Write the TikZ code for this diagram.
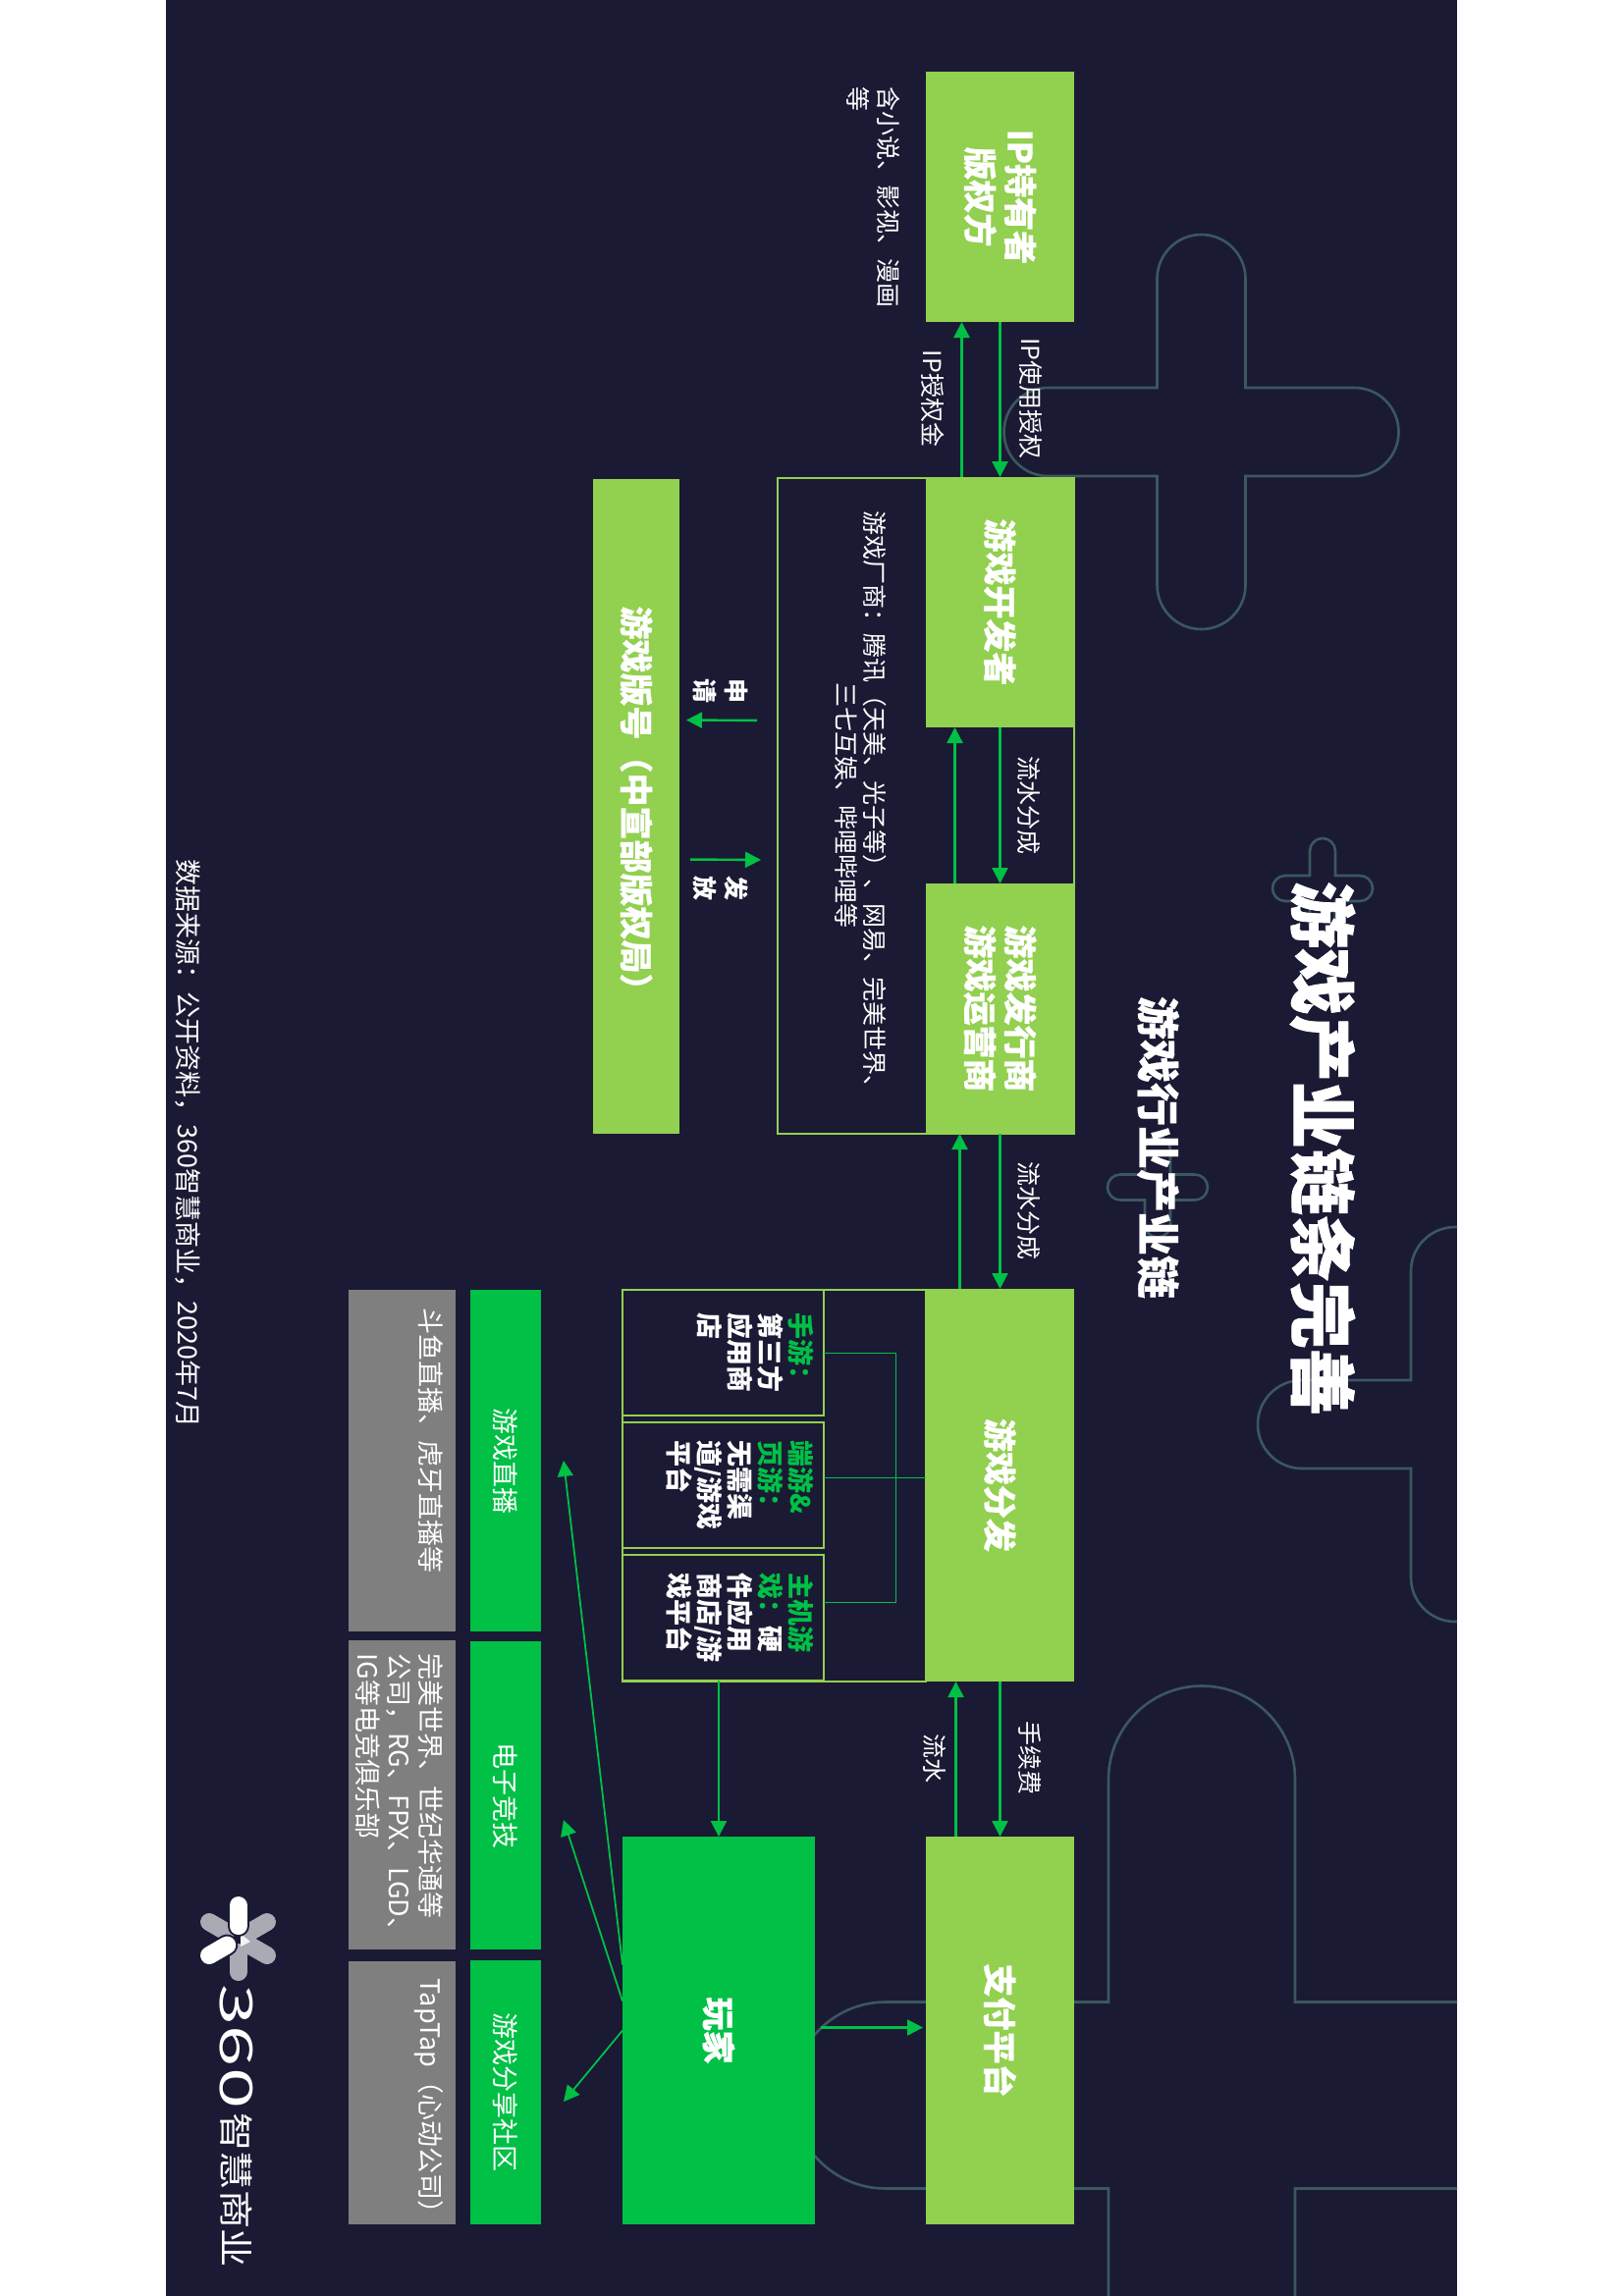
\documentclass[tikz,border=0pt]{standalone}
\usepackage{fontspec}
\setmainfont{Noto Sans CJK SC}
\newfontfamily\heavyfont[BoldFeatures={FakeBold=1.2}]{Noto Sans CJK SC}
\newfontfamily\boxfont[BoldFeatures={FakeBold=0.5}]{Noto Sans CJK SC}
\usetikzlibrary{arrows.meta,positioning}
\definecolor{panelbg}{RGB}{27,26,52}
\definecolor{leafgreen}{RGB}{146,208,80}
\definecolor{flowgreen}{RGB}{0,192,70}
\definecolor{notegray}{RGB}{127,127,127}
\definecolor{plusteal}{RGB}{58,88,96}
\definecolor{petalgray}{RGB}{170,170,180}
\tikzstyle{arrow} = [line width=1.2pt,->,>={Triangle[length=8pt,width=8pt]},color=flowgreen]
\tikzstyle{thinline} = [line width=0.5pt,color=flowgreen]
\tikzstyle{plusline} = [line width=1.3pt,color=plusteal]
\tikzstyle{leafbox} = [fill=leafgreen,text=white,inner sep=0pt,outer sep=0pt,align=center,font=\fontsize{17}{20.5}\selectfont\boxfont\bfseries]
\tikzstyle{greenbox} = [fill=flowgreen,text=white,inner sep=0pt,outer sep=0pt,align=center,font=\fontsize{13.5}{16}\selectfont]
\tikzstyle{graybox} = [fill=notegray,inner sep=0pt,outer sep=0pt]
\tikzstyle{framebox} = [draw=leafgreen,line width=1pt,inner sep=0pt,outer sep=0pt]
\tikzstyle{flowlabel} = [text=white,inner sep=0pt,align=center,font=\fontsize{12.5}{15}\selectfont]
\tikzstyle{subtext} = [text=white,inner sep=0pt,align=left,font=\fontsize{13.5}{15.5}\selectfont\bfseries]
\tikzstyle{graytext} = [text=white,inner sep=0pt,align=left,font=\fontsize{13.5}{16}\selectfont]
% one rounded plus: centre x, centre y, half width, half length
\newcommand{\plusshape}[4]{%
\draw[plusline] ({#1-#3},{#2-#4+#3}) arc (180:360:#3) -- ({#1+#3},{#2-#3}) -- ({#1+#4-#3},{#2-#3})
  arc (270:450:#3) -- ({#1+#3},{#2+#3}) -- ({#1+#3},{#2+#4-#3})
  arc (0:180:#3) -- ({#1-#3},{#2+#3}) -- ({#1-#4+#3},{#2+#3})
  arc (90:270:#3) -- ({#1-#3},{#2-#3}) -- cycle;}
\begin{document}
\begin{tikzpicture}[x=0.5pt,y=0.5pt,rotate=-90,transform shape]
\useasboundingbox (0,0) rectangle (2339,1653);
\fill[white] (0,0) rectangle (2339,1653);
\fill[panelbg] (0,169) rectangle (2339,1484);

% Background pluses
\begin{scope}
\clip (0,169) rectangle (2339,1484);
\plusshape{440}{1223.5}{45}{201}
\plusshape{905}{1347}{13}{51}
\plusshape{1209.5}{1179}{13}{51}
\plusshape{1451}{1482}{45}{201}
\plusshape{2134.5}{1224}{95}{417}
\end{scope}

% Titles
\node[text=white,inner sep=0pt,font=\fontsize{34}{40}\selectfont\heavyfont\bfseries] (maintitle) at (1170,1347) {游戏产业链条完善};
\node[text=white,inner sep=0pt,font=\fontsize{22}{26}\selectfont\boxfont\bfseries] (subtitle) at (1169,1179.5) {游戏行业产业链};

% Frames
\node[framebox,minimum width=334pt,minimum height=151pt] (devframe) at (821,943) {};
\node[framebox,minimum width=199.5pt,minimum height=154.5pt] (distframe) at (1513.5,788.5) {};

% Chain boxes
\node[leafbox,minimum width=127.5pt,minimum height=75.5pt] (ipowner) at (200.5,1018.5) {IP持有者\\版权方};
\node[leafbox,minimum width=127.5pt,minimum height=75.5pt] (gamedev) at (613.5,1018.5) {游戏开发者};
\node[leafbox,minimum width=127.5pt,minimum height=75.5pt] (publisher) at (1027.5,1018.5) {游戏发行商\\游戏运营商};
\node[leafbox,minimum width=200pt,minimum height=75.5pt] (distrib) at (1513,1018.5) {游戏分发};
\node[leafbox,minimum width=197.5pt,minimum height=75.5pt] (payment) at (2068.5,1018.5) {支付平台};
\node[leafbox,minimum width=333.5pt,minimum height=44pt] (license) at (821.5,648) {游戏版号（中宣部版权局）};
\node[greenbox,minimum width=197.5pt,minimum height=98pt,font=\fontsize{17}{20.5}\selectfont\boxfont\bfseries] (player) at (2068.5,732) {玩家};

% Distribution channels
\node[framebox,minimum width=64pt,minimum height=102.5pt] (mobilebox) at (1378,736.5) {};
\node[framebox,minimum width=64pt,minimum height=102.5pt] (pcbox) at (1513,736.5) {};
\node[framebox,minimum width=64pt,minimum height=102.5pt] (consolebox) at (1648,736.5) {};
\node[subtext,below=5pt of mobilebox.north] (mobiletext) {\textcolor{flowgreen}{手游：}\\第三方\\应用商\\店};
\node[subtext,below=5pt of pcbox.north] (pctext) {\textcolor{flowgreen}{端游\&}\\\textcolor{flowgreen}{页游：}\\无需渠\\道/游戏\\平台};
\node[subtext,below=5pt of consolebox.north] (consoletext) {\textcolor{flowgreen}{主机游}\\\textcolor{flowgreen}{戏：}硬\\件应用\\商店/游\\戏平台};

% Downstream columns
\node[greenbox,minimum width=174pt,minimum height=36pt] (livebox) at (1488,515) {游戏直播};
\node[greenbox,minimum width=157pt,minimum height=36pt] (esportsbox) at (1829,515) {电子竞技};
\node[greenbox,minimum width=134.5pt,minimum height=36pt] (communitybox) at (2131.5,515) {游戏分享社区};
\node[graybox,minimum width=174pt,minimum height=54.5pt] (livenote) at (1488,409.5) {};
\node[graybox,minimum width=157.5pt,minimum height=54.5pt] (esportsnote) at (1828.5,409.5) {};
\node[graybox,minimum width=134pt,minimum height=54.5pt] (communitynote) at (2132,409.5) {};
\node[graytext,below=6pt of livenote.north,xshift=-10.5pt] (livetext) {斗鱼直播、虎牙直播等};
\node[graytext,below=6pt of esportsnote.north,xshift=2pt] (esportstext) {完美世界、世纪华通等\\公司，RG、FPX、LGD、\\IG等电竞俱乐部};
\node[graytext,below=6pt of communitynote.north,xshift=5pt] (communitytext) {TapTap（心动公司）};

% Notes
\node[flowlabel,anchor=west,align=left,font=\fontsize{12.5}{15.5}\selectfont] (ipnote) at (88,890) {含小说、影视、漫画\\等};
\node[flowlabel,font=\fontsize{12.5}{14.5}\selectfont] (devnote) at (820,877) {游戏厂商：腾讯（天美、光子等）、网易、完美世界、\\三七互娱、哔哩哔哩等};
\node[flowlabel,font=\fontsize{13.5}{16}\selectfont] (sourcenote) at (1165,191.5) {数据来源：公开资料，360智慧商业，2020年7月};

% Flow labels
\node[flowlabel] (ipuselabel) at (406,1050) {IP使用授权};
\node[flowlabel] (ipfeelabel) at (406,950) {IP授权金};
\node[flowlabel] (sharelabela) at (820,1048) {流水分成};
\node[flowlabel] (sharelabelb) at (1233,1048) {流水分成};
\node[flowlabel] (feelabel) at (1791,1049) {手续费};
\node[flowlabel] (flowlabelc) at (1791,952) {流水};
\node[flowlabel,font=\fontsize{12.5}{16}\selectfont\bfseries] (applylabel) at (704,734) {申\\请};
\node[flowlabel,font=\fontsize{12.5}{16}\selectfont\bfseries] (issuelabel) at (905,734) {发\\放};

% Arrows along the chain
\draw[arrow] (ipowner.east) -- (gamedev.west);
\draw[arrow] ([yshift=-19.5pt]gamedev.west) -- ([yshift=-19.5pt]ipowner.east);
\draw[arrow] (gamedev.east) -- (publisher.west);
\draw[arrow] ([yshift=-23pt]publisher.west) -- ([yshift=-23pt]gamedev.east);
\draw[arrow] (publisher.east) -- (distrib.west);
\draw[arrow] ([yshift=-20.5pt]distrib.west) -- ([yshift=-20.5pt]publisher.east);
\draw[arrow] (distrib.east) -- (payment.west);
\draw[arrow] ([yshift=-22.5pt]payment.west) -- ([yshift=-22.5pt]distrib.east);
\draw[arrow,shorten <=10.5pt,shorten >=3.5pt] ([xshift=-43.5pt]devframe.south) -- ([xshift=-44pt]license.north);
\draw[arrow,shorten <=5.5pt,shorten >=8.5pt] ([xshift=27pt]license.north) -- ([xshift=27.5pt]devframe.south);
\draw[arrow] ([yshift=-2.25pt]consolebox.east) -- (player.west);
\draw[arrow,shorten <=3pt,shorten >=1.5pt] ([xshift=-1.5pt]player.north) -- ([xshift=-1.5pt]payment.south);

% Channel links
\draw[thinline] (mobilebox.north) -- ++(0,73.5) -- ++(254,0) -- ([xshift=-8pt]consolebox.north);
\draw[thinline] ([xshift=-4pt]pcbox.north) -- ([xshift=-4pt]distrib.south);

% Player to the downstream columns
\coordinate (livetip) at (1488,574);
\coordinate (esportstip) at (1854,574);
\coordinate (communitytip) at (2141,574);
\draw[arrow,line width=0.9pt] ([xshift=-33.5pt]player.south) -- (livetip);
\draw[arrow,line width=0.9pt] ([xshift=-15pt]player.south) -- (esportstip);
\draw[arrow,line width=0.9pt] (player.south) -- (communitytip);

% Logo
\coordinate (logocentre) at (1975,242.5);
\foreach \a in {120,60,0,-120} {
  \draw[petalgray,line width=9pt,line cap=round] (logocentre) ++(\a:14) -- ++(\a:20);
}
\fill[white!85!petalgray] (1970,245) -- (1978,255) -- (1983,245) -- cycle;
\foreach \a in {180,-60} {
  \draw[panelbg,line width=11pt,line cap=round] (logocentre) ++(\a:13) -- ++(\a:21);
  \draw[white,line width=9pt,line cap=round] (logocentre) ++(\a:13) -- ++(\a:21);
}
\node[text=white,inner sep=0pt,xscale=1.65,font=\fontsize{23}{26}\selectfont] (logonum) at (2085,241) {360};
\node[text=white,inner sep=0pt,xscale=1.12,font=\fontsize{17.5}{20}\selectfont] (logoword) at (2231,241) {智慧商业};
\end{tikzpicture}
\end{document}
